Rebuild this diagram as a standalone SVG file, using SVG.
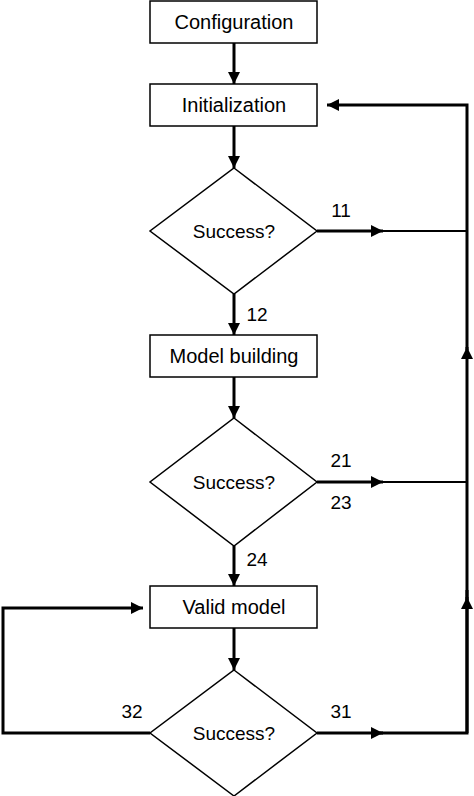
<svg xmlns="http://www.w3.org/2000/svg" width="474" height="796" viewBox="0 0 474 796">
<defs>
<marker id="ah" markerWidth="12" markerHeight="12" viewBox="0 0 12 12" refX="12" refY="6" orient="auto" markerUnits="userSpaceOnUse">
<path d="M0,0 L12,6 L0,12 Z" fill="#000"/>
</marker>
<style>
.box{fill:#fff;stroke:#000;stroke-width:1.5}
.t{font-family:"Liberation Sans",Arial,sans-serif;font-size:20px;fill:#000;text-anchor:middle}
.d{font-family:"Liberation Sans",Arial,sans-serif;font-size:19px;fill:#000;text-anchor:middle}
.n{font-family:"Liberation Sans",Arial,sans-serif;font-size:19px;fill:#000;text-anchor:middle}
.c{fill:none;stroke:#000;stroke-width:3}
.c2{fill:none;stroke:#000;stroke-width:2.2}
</style>
</defs>
<rect width="474" height="796" fill="#fff"/>
<g id="connectors">
<path class="c" d="M234,43 V84" marker-end="url(#ah)"/>
<path class="c" d="M234,126 V168" marker-end="url(#ah)"/>
<path class="c" d="M234,294 V335" marker-end="url(#ah)"/>
<path class="c" d="M234,377 V418" marker-end="url(#ah)"/>
<path class="c" d="M234,546 V586" marker-end="url(#ah)"/>
<path class="c" d="M234,628 V670" marker-end="url(#ah)"/>
<path class="c" d="M317,231 H383" marker-end="url(#ah)"/>
<path class="c2" d="M380,231 H467"/>
<path class="c" d="M317,482 H383" marker-end="url(#ah)"/>
<path class="c2" d="M380,482 H467"/>
<path class="c" d="M317,733 H383" marker-end="url(#ah)"/>
<path class="c" d="M380,733 H467 V590"/>
<path class="c" d="M467,733 V597" marker-end="url(#ah)"/>
<path class="c" d="M467,600 V347" marker-end="url(#ah)"/>
<path class="c" d="M467,350 V105 H327" marker-end="url(#ah)"/>
<path class="c" d="M150,733 H3 V608 H143" marker-end="url(#ah)"/>
</g>
<g id="configuration"><rect class="box" x="150" y="1" width="167" height="42"/><text class="t" x="234" y="29">Configuration</text></g>
<g id="initialization"><rect class="box" x="150" y="84" width="167" height="42"/><text class="t" x="234" y="112">Initialization</text></g>
<g id="decision1"><polygon class="box" points="234,168 317,231 234,294 150,231"/><text class="d" x="234" y="238">Success?</text></g>
<g id="model-building"><rect class="box" x="150" y="335" width="167" height="42"/><text class="t" x="234" y="363">Model building</text></g>
<g id="decision2"><polygon class="box" points="234,418 317,482 234,546 150,482"/><text class="d" x="234" y="489">Success?</text></g>
<g id="valid-model"><rect class="box" x="150" y="586" width="167" height="42"/><text class="t" x="234" y="614">Valid model</text></g>
<g id="decision3"><polygon class="box" points="234,670 317,733 234,796 150,733"/><text class="d" x="234" y="740">Success?</text></g>
<g id="labels">
<text class="n" x="341" y="217">11</text>
<text class="n" x="257" y="321">12</text>
<text class="n" x="341" y="467">21</text>
<text class="n" x="341" y="509">23</text>
<text class="n" x="257" y="566">24</text>
<text class="n" x="341" y="718">31</text>
<text class="n" x="132" y="718">32</text>
</g>
</svg>
